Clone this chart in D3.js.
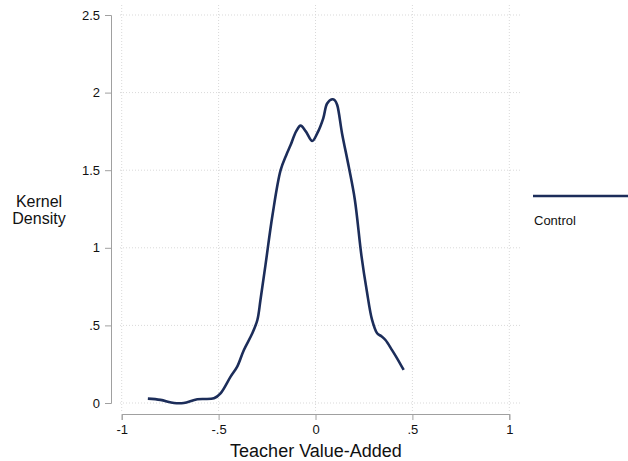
<!DOCTYPE html>
<html>
<head>
  <meta charset="UTF-8">
  <title>Kernel Density</title>
  <script src="https://cdn.jsdelivr.net/npm/d3@7"></script>
  <style>
    body { margin: 0; background: #fff; }
    svg text { font-family: "Liberation Sans", Arial, Helvetica, sans-serif; fill: #111; }
  </style>
</head>
<body>
<svg id="chart" width="628" height="461"></svg>
<script>
// density curve
const vaX = [-0.865, -0.80, -0.73, -0.68, -0.61, -0.524, -0.49, -0.438, -0.404, -0.37, -0.326, -0.30, -0.284,
  -0.258, -0.222, -0.18, -0.15, -0.129, -0.10, -0.077, -0.05, -0.017, 0.01, 0.04, 0.06, 0.086, 0.10, 0.112,
  0.137, 0.172, 0.203, 0.237, 0.265, 0.292, 0.318, 0.34, 0.361, 0.395, 0.421, 0.455];
const densY = [0.028, 0.02, 0.0, 0.0, 0.024, 0.03, 0.062, 0.17, 0.234, 0.34, 0.449, 0.535, 0.664,
  0.89, 1.21, 1.50, 1.60, 1.66, 1.75, 1.787, 1.75, 1.688, 1.74, 1.834, 1.93, 1.957, 1.95, 1.92,
  1.737, 1.52, 1.31, 0.95, 0.72, 0.535, 0.449, 0.43, 0.406, 0.341, 0.288, 0.213];

const xTicks = [-1, -0.5, 0, 0.5, 1];
const xTickLabels = ['-1', '-.5', '0', '.5', '1'];
const yTicks = [0, 0.5, 1, 1.5, 2, 2.5];
const yTickLabels = ['0', '.5', '1', '1.5', '2', '2.5'];

const svg = d3.select('#chart');

const x = d3.scaleLinear().domain([-1, 1]).range([121.7, 509.3]);
const y = d3.scaleLinear().domain([0, 2.5]).range([403, 15]);

const axisColor = '#a0a0a0';

// gridlines
svg.append('g').selectAll('line').data(xTicks).enter().append('line')
  .attr('x1', d => x(d)).attr('x2', d => x(d))
  .attr('y1', 5).attr('y2', 411)
  .attr('stroke', '#d9d9d9').attr('stroke-width', 1).attr('stroke-dasharray', '1,2');

svg.append('g').selectAll('line').data(yTicks).enter().append('line')
  .attr('x1', 120).attr('x2', 520)
  .attr('y1', d => y(d)).attr('y2', d => y(d))
  .attr('stroke', '#d9d9d9').attr('stroke-width', 1).attr('stroke-dasharray', '1,2');

// y axis
const yAxis = svg.append('g').attr('transform', 'translate(111,0)')
  .call(d3.axisLeft(y).tickValues(yTicks).tickFormat((d, i) => yTickLabels[i]).tickSize(6).tickPadding(5));
yAxis.select('.domain').attr('stroke', axisColor);
yAxis.selectAll('.tick line').attr('stroke', axisColor);
yAxis.selectAll('.tick text').attr('font-size', 13).attr('fill', '#111');

// x axis
const xAxis = svg.append('g').attr('transform', 'translate(0,414)')
  .call(d3.axisBottom(x).tickValues(xTicks).tickFormat((d, i) => xTickLabels[i]).tickSize(6).tickPadding(5));
xAxis.select('.domain').attr('stroke', axisColor);
xAxis.selectAll('.tick line').attr('stroke', axisColor);
xAxis.selectAll('.tick text').attr('font-size', 13).attr('fill', '#111');

// axis titles
svg.append('text').attr('x', 316).attr('y', 457).attr('text-anchor', 'middle')
  .attr('font-size', 18).text('Teacher Value-Added');
svg.append('text').attr('x', 39).attr('y', 207).attr('text-anchor', 'middle')
  .attr('font-size', 16).text('Kernel');
svg.append('text').attr('x', 39).attr('y', 224).attr('text-anchor', 'middle')
  .attr('font-size', 16).text('Density');

// curve
const line = d3.line().x(d => x(d[0])).y(d => y(d[1])).curve(d3.curveCatmullRom.alpha(0.5));
svg.append('path').datum(d3.zip(vaX, densY))
  .attr('d', line).attr('fill', 'none')
  .attr('stroke', '#1c2d5a').attr('stroke-width', 2.6).attr('stroke-linejoin', 'round');

// legend
svg.append('line').attr('x1', 533).attr('x2', 628).attr('y1', 196).attr('y2', 196)
  .attr('stroke', '#1c2d5a').attr('stroke-width', 2.6);
svg.append('text').attr('x', 534).attr('y', 225).attr('font-size', 13).text('Control');
</script>
</body>
</html>
